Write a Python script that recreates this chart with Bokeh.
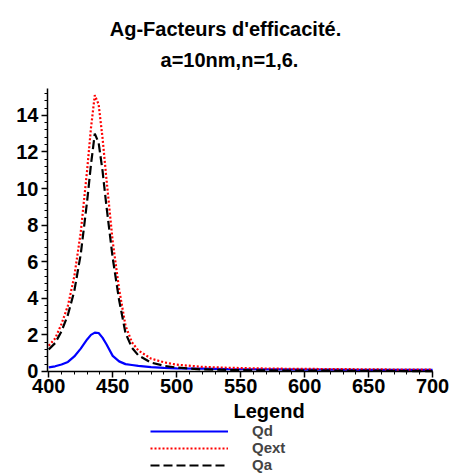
from bokeh.plotting import figure
from bokeh.models import Legend, LegendItem, Label, Range1d, FixedTicker, ColumnDataSource
from bokeh.embed import file_html
from bokeh.resources import INLINE

# wavelength (nm)
wl = [400, 405, 410, 415, 420, 425, 430, 433, 436, 439, 442, 445, 450, 455, 460, 465, 470,
      480, 490, 500, 520, 540, 560, 580, 600, 620, 640, 660, 680, 700]
qd = [0.22, 0.28, 0.38, 0.52, 0.82, 1.25, 1.75, 2.0, 2.12, 2.1, 1.85, 1.5, 0.85, 0.55, 0.4, 0.35, 0.3,
      0.24, 0.2, 0.17, 0.15, 0.13, 0.12, 0.11, 0.1, 0.1, 0.09, 0.09, 0.08, 0.08]
qext = [1.4, 1.8, 2.6, 3.6, 5.2, 7.6, 11.0, 13.3, 15.1, 14.6, 12.8, 10.6, 7.1, 4.5, 2.5, 1.6, 1.15,
        0.7, 0.5, 0.37, 0.25, 0.2, 0.17, 0.15, 0.14, 0.13, 0.12, 0.11, 0.1, 0.1]
qa = [1.2, 1.55, 2.2, 3.1, 4.4, 6.4, 9.3, 11.3, 13.0, 12.5, 11.0, 9.1, 6.2, 3.9, 2.1, 1.3, 0.88,
      0.48, 0.31, 0.21, 0.11, 0.08, 0.06, 0.05, 0.04, 0.04, 0.03, 0.03, 0.02, 0.02]

title1 = "Ag-Facteurs d'efficacité."
title2 = "a=10nm,n=1,6."
legend_title = "Legend"
series_names = ["Qd", "Qext", "Qa"]
x_ticks = [400, 450, 500, 550, 600, 650, 700]
y_ticks = [0, 2, 4, 6, 8, 10, 12, 14]

X_MIN, X_MAX = 399, 700
Y_MIN, Y_MAX = 0, 15.47

FONT = "Liberation Sans"

# The frame covers the whole canvas so that titles, tick labels and legend are not clipped;
# the axes are pinned at x = 399 / y = 0 and bounded to the data ranges.
p = figure(width=451, height=473, output_backend="svg", toolbar_location=None,
           x_range=Range1d(362.3, 714.8), y_range=Range1d(-5.58, 20.28),
           min_border_left=0, min_border_right=0, min_border_top=0, min_border_bottom=0)
p.outline_line_color = None
p.xgrid.visible = False
p.ygrid.visible = False
p.background_fill_color = "white"

src = ColumnDataSource(dict(wl=wl, qd=qd, qext=qext, qa=qa))
r_qd = p.line("wl", "qd", source=src, line_color="#0000ff", line_width=2.2)
r_qext = p.line("wl", "qext", source=src, line_color="#ff0000", line_width=2.2, line_dash="2 2")
r_qa = p.line("wl", "qa", source=src, line_color="black", line_width=2.2, line_dash="9 4")

for ax in (p.xaxis[0], p.yaxis[0]):
    ax.axis_line_color = "black"
    ax.axis_line_width = 1.5
    ax.major_tick_line_color = "black"
    ax.minor_tick_line_color = "black"
    ax.major_tick_line_width = 1.5
    ax.major_tick_out = 6
    ax.major_tick_in = 0
    ax.minor_tick_out = 3
    ax.minor_tick_in = 0
    ax.major_label_text_font = FONT
    ax.major_label_text_font_style = "bold"
    ax.major_label_text_font_size = "20px"
    ax.major_label_text_color = "black"

p.xaxis[0].fixed_location = Y_MIN
p.xaxis[0].bounds = (X_MIN, X_MAX)
p.yaxis[0].fixed_location = X_MIN
p.yaxis[0].bounds = (Y_MIN, Y_MAX)
p.xaxis[0].ticker = FixedTicker(ticks=x_ticks, minor_ticks=list(range(400, 701, 10)))
p.yaxis[0].ticker = FixedTicker(ticks=y_ticks, minor_ticks=[i * 0.4 for i in range(0, 39)])
p.xaxis[0].major_label_standoff = 2
p.yaxis[0].major_label_standoff = 3

p.add_layout(Label(x=225, y=445, x_units="screen", y_units="screen", text=title1,
                   text_align="center", text_baseline="middle", text_font=FONT,
                   text_font_style="bold", text_font_size="20px", text_color="black"))
p.add_layout(Label(x=229, y=414, x_units="screen", y_units="screen", text=title2,
                   text_align="center", text_baseline="middle", text_font=FONT,
                   text_font_style="bold", text_font_size="20px", text_color="black"))
p.add_layout(Label(x=233, y=63, x_units="screen", y_units="screen", text=legend_title,
                   text_align="left", text_baseline="middle", text_font=FONT,
                   text_font_style="bold", text_font_size="20px", text_color="black"))

legend = Legend(items=[LegendItem(label=series_names[0], renderers=[r_qd]),
                       LegendItem(label=series_names[1], renderers=[r_qext]),
                       LegendItem(label=series_names[2], renderers=[r_qa])],
                location=(150, 0), orientation="vertical",
                background_fill_alpha=0, border_line_color=None,
                padding=0, margin=0, spacing=0,
                glyph_width=78, glyph_height=16, label_height=16, label_standoff=24,
                label_text_font=FONT, label_text_font_style="bold",
                label_text_font_size="15px",
                label_text_baseline="middle")
p.add_layout(legend, "center")

open("out.html", "w").write(file_html(p, INLINE))
